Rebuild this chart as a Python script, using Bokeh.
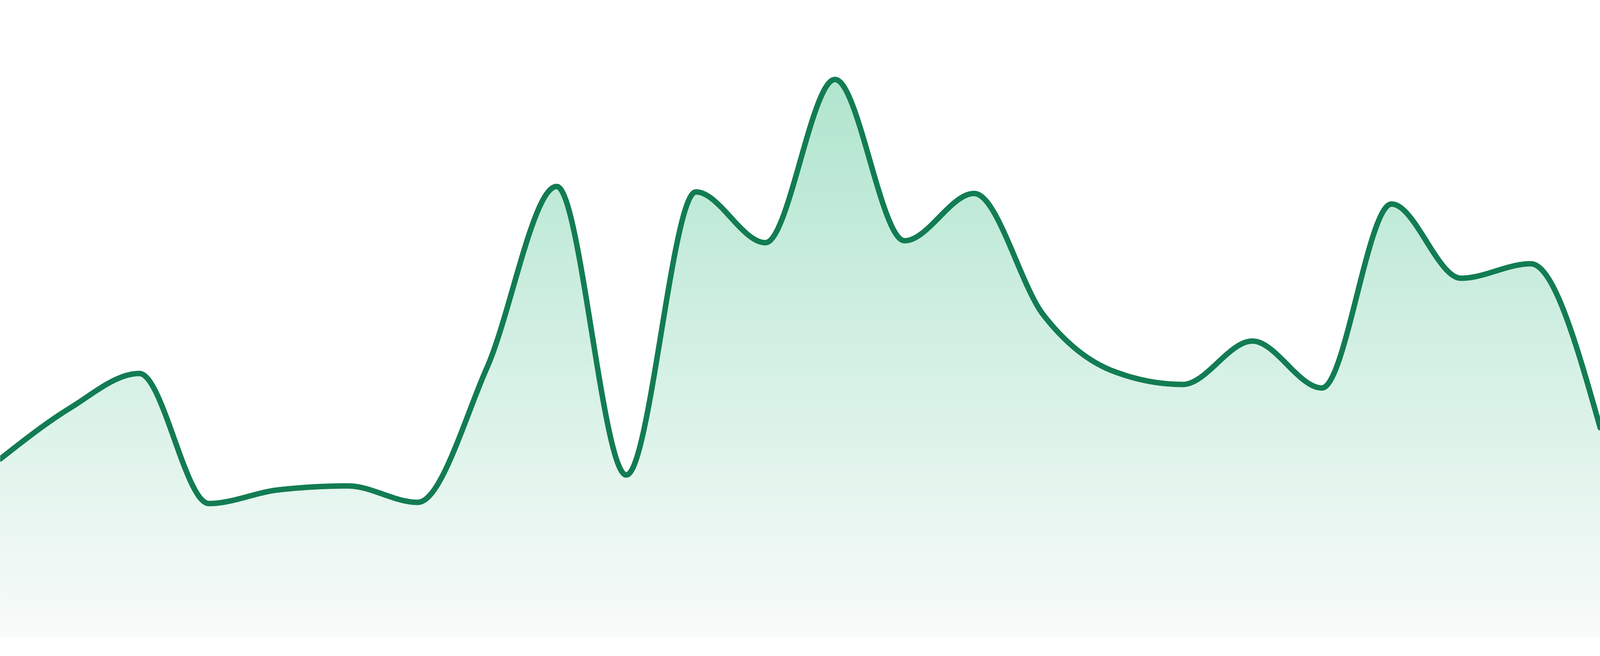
import numpy as np
from bokeh.plotting import figure
from bokeh.models import Range1d
from bokeh.embed import file_html
from bokeh.resources import INLINE

# ---- data ----
points = list(range(24))
values = [457, 587, 676, 343, 378, 388, 346, 692, 1155, 416, 1141, 1011,
          1429, 1016, 1137, 825, 682, 648, 759, 639, 1110, 920, 957, 537]

line_color = "#127c52"
fill_top_rgb = (176, 229, 206)     # colour near the highest point
fill_bottom_rgb = (248, 251, 250)  # colour at the baseline

Y_MIN, Y_MAX = -48.0, 1632.0


def monotone_curve(xs, ys, n=60):
    xs = np.asarray(xs, float)
    ys = np.asarray(ys, float)
    h = np.diff(xs)
    s = np.diff(ys) / h
    m = np.zeros_like(ys)
    for i in range(1, len(ys) - 1):
        s0, s1 = s[i - 1], s[i]
        p = (s0 * h[i] + s1 * h[i - 1]) / (h[i - 1] + h[i])
        m[i] = (np.sign(s0) + np.sign(s1)) * min(abs(s0), abs(s1), 0.5 * abs(p))
    m[0] = (3 * s[0] - m[1]) / 2
    m[-1] = (3 * s[-1] - m[-2]) / 2
    outx, outy = [], []
    for i in range(len(ys) - 1):
        t = np.linspace(0, 1, n, endpoint=(i == len(ys) - 2))
        x0, x1 = xs[i], xs[i + 1]
        dx = x1 - x0
        P0 = (x0, ys[i])
        P1 = (x0 + dx / 3, ys[i] + m[i] * dx / 3)
        P2 = (x1 - dx / 3, ys[i + 1] - m[i + 1] * dx / 3)
        P3 = (x1, ys[i + 1])
        a = (1 - t) ** 3
        b = 3 * (1 - t) ** 2 * t
        c = 3 * (1 - t) * t ** 2
        d = t ** 3
        outx.append(a * P0[0] + b * P1[0] + c * P2[0] + d * P3[0])
        outy.append(a * P0[1] + b * P1[1] + c * P2[1] + d * P3[1])
    return np.concatenate(outx), np.concatenate(outy)


cx, cy = monotone_curve(points, values)

p = figure(width=4784, height=1664, sizing_mode="stretch_both",
           x_range=Range1d(0, 23), y_range=Range1d(Y_MIN, Y_MAX),
           output_backend="svg", toolbar_location=None, min_border=0,
           min_border_left=0, min_border_right=0, min_border_top=0, min_border_bottom=0)
p.axis.visible = False
p.xgrid.visible = False
p.ygrid.visible = False
p.outline_line_color = None
p.background_fill_color = "white"
p.border_fill_color = "white"


def fill_color_at(v):
    ypix = 1632.0 - v
    t = (ypix - 200.0) / (1632.0 - 200.0)
    t = min(max(t, 0.0), 1.0)
    r = fill_top_rgb[0] + (fill_bottom_rgb[0] - fill_top_rgb[0]) * t
    g = fill_top_rgb[1] + (fill_bottom_rgb[1] - fill_top_rgb[1]) * t
    b = fill_top_rgb[2] + (fill_bottom_rgb[2] - fill_top_rgb[2]) * t
    return "#%02x%02x%02x" % (int(round(r)), int(round(g)), int(round(b)))


n_bands = 120
top = max(values) + 20
edges = np.linspace(0, top, n_bands + 1)
for k in range(n_bands):
    b0 = edges[k]
    mid = (edges[k] + edges[k + 1]) / 2
    y1 = np.minimum(cy, b0)
    p.varea(x=cx, y1=y1, y2=cy, fill_color=fill_color_at(mid), fill_alpha=1.0)

p.line(cx, cy, line_color=line_color, line_width=14,
       line_cap="round", line_join="round")

open("out.html", "w").write(file_html(p, INLINE))
